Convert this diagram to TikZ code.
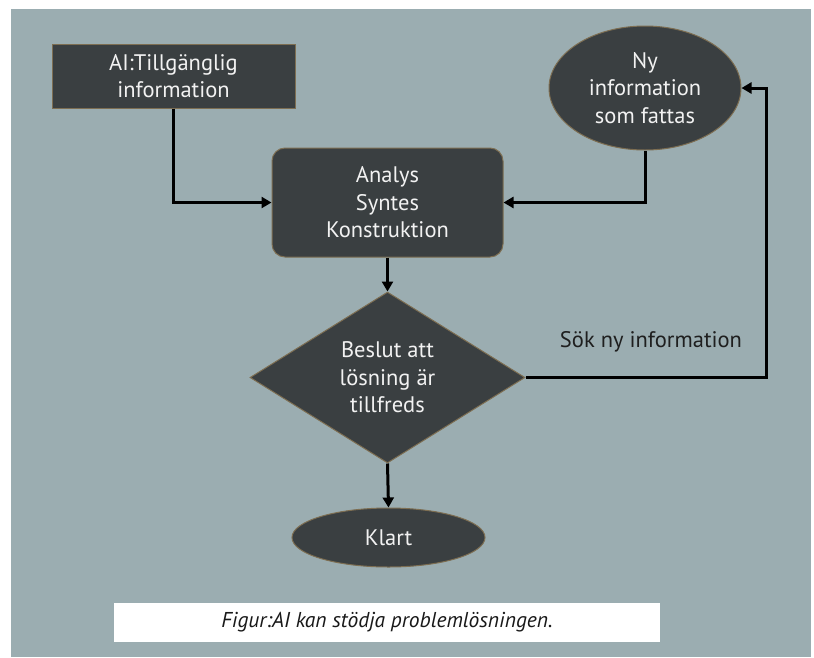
\documentclass[tikz,border=0pt]{standalone}
\usepackage{fontspec}
\setmainfont{PT Sans}
\usetikzlibrary{shapes.geometric,arrows.meta}
\definecolor{panel}{HTML}{9BADB1}
\definecolor{nodefill}{HTML}{3A3F41}
\definecolor{nodeedge}{HTML}{7D6E52}
\definecolor{nodetext}{HTML}{F2F2F2}
\tikzset{
  flownode/.style={fill=nodefill, draw=nodeedge, line width=1pt, text=nodetext,
    font=\fontsize{22.5}{27.5}\selectfont, align=center, inner sep=0pt},
  conn/.style={line width=3pt, draw=black},
  arr/.style={conn, -{Triangle[length=10pt,width=11pt]}},
}
\begin{document}
\begin{tikzpicture}[x=1pt,y=-1pt]
  \fill[white] (0,0) rectangle (814,657);
  \useasboundingbox (0,0) rectangle (814,657);
  \fill[panel] (11,9) rectangle (811,657);

  \node[flownode, rectangle, minimum width=243pt, minimum height=64pt] (ai) at (173.5,76) {AI:Tillgänglig\\information};
  \node[flownode, ellipse, minimum width=192pt, minimum height=124pt] (ny) at (645,88) {Ny\\information\\som fattas};
  \node[flownode, rectangle, rounded corners=13pt, minimum width=231pt, minimum height=109pt] (ana) at (387.5,202.5) {Analys\\Syntes\\Konstruktion};
  \node[flownode, diamond, shape aspect=1.6, minimum width=275pt, minimum height=171pt] (dec) at (387.5,377.5) {Beslut att\\lösning är\\tillfreds};
  \node[flownode, ellipse, minimum width=193pt, minimum height=59pt] (klart) at (388.5,537.5) {Klart};
  \node[fill=white, minimum width=546pt, minimum height=39pt, inner sep=0pt, font=\fontsize{21.5}{24}\selectfont\itshape, text=black!90] (cap) at (387,622.5) {Figur:AI kan stödja problemlösningen.};
  \node[font=\fontsize{22.5}{26}\selectfont, text=black!88, anchor=center] (lbl) at (651,342) {Sök ny information};
  \coordinate (turn) at (766,377.5);

  \draw[arr] (ai.south) |- (ana.west);
  \draw[arr] (ny.south) |- (ana.east);
  \draw[arr] (ana.south) -- (dec.north);
  \draw[arr] (dec.south) -- (klart.north);
  \draw[arr] (dec.east) -- (turn) |- (ny.east);
\end{tikzpicture}
\end{document}
